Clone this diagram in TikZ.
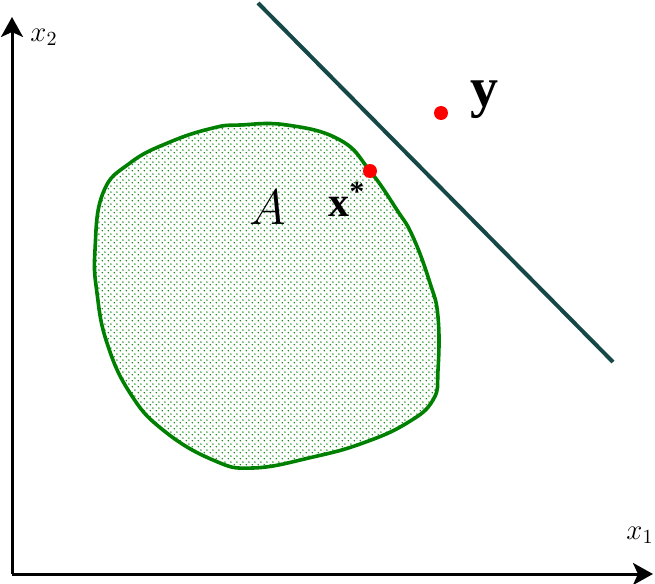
\documentclass[tikz,border=0pt]{standalone}
\usepackage{fontspec}
\setmainfont{Liberation Serif}
\usepackage{tikz}
\usetikzlibrary{arrows.meta, patterns.meta}

\definecolor{setgreen}{RGB}{0,128,0}
\definecolor{planeteal}{RGB}{22,72,72}

\tikzdeclarepattern{
  name=setdots,
  type=uncolored,
  bounding box={(0,0) and (2.8pt,2.8pt)},
  tile size={(2.8pt,2.8pt)},
  code={
    \pgfpathcircle{\pgfpoint{0.7pt}{0.7pt}}{0.42pt}
    \pgfpathcircle{\pgfpoint{2.1pt}{2.1pt}}{0.42pt}
    \pgfusepath{fill}
  }
}

\begin{document}
\begin{tikzpicture}[
  x=0.5pt, y=-0.5pt,
  axis/.style={line width=1.5pt, -{Stealth[length=10pt, width=11pt, inset=2.5pt]}},
  plane/.style={line width=2pt, draw=planeteal},
  setline/.style={line width=1.8pt, draw=setgreen},
  reddot/.style={circle, fill=red, inner sep=0pt, minimum size=7pt},
  axislabel/.style={font=\fontsize{14}{16}\selectfont},
]
\useasboundingbox (0,0) rectangle (655,584);

% ---- Set A ----
\fill[pattern=setdots, pattern color=setgreen]
  plot[smooth cycle, tension=0.75] coordinates {
    (240,125) (287,125) (340,140) (370,171) (397,210) (413,237) (430,283)
    (438,317) (438,370) (433,400) (407,423) (363,443) (313,457) (253,468)
    (213,460) (163,430) (130,393) (107,343) (97,293) (95,250) (103,193)
    (130,163) (170,142) (213,128)};
\draw[setline]
  plot[smooth cycle, tension=0.75] coordinates {
    (240,125) (287,125) (340,140) (370,171) (397,210) (413,237) (430,283)
    (438,317) (438,370) (433,400) (407,423) (363,443) (313,457) (253,468)
    (213,460) (163,430) (130,393) (107,343) (97,293) (95,250) (103,193)
    (130,163) (170,142) (213,128)};

% ---- Axes ----
\coordinate (origin) at (12,574);
\coordinate (x1end) at (653,574);
\coordinate (x2end) at (12,17);
\draw[axis] (origin) -- (x1end);
\draw[axis] (origin) -- (x2end);
\node[axislabel] (x1lab) at (640,535) {$x_1$};
\node[axislabel] (x2lab) at (44,37) {$x_2$};

% ---- Separating line ----
\coordinate (planetop) at (258,3);
\coordinate (planebot) at (613,362);
\draw[plane] (planetop) -- (planebot);

% ---- Points and labels ----
\node[reddot] (xstar) at (370,171) {};
\node[reddot] (ypt) at (441,113) {};
\node[font=\fontsize{28}{30}\selectfont\bfseries] (ylab) at (484,100) {y};
\node[font=\fontsize{21}{24}\selectfont\bfseries] (xstarlab) at (347,199) {x\textsuperscript{*}};
\node[font=\fontsize{27}{30}\selectfont] (Alab) at (268,207) {$A$};

\end{tikzpicture}
\end{document}
